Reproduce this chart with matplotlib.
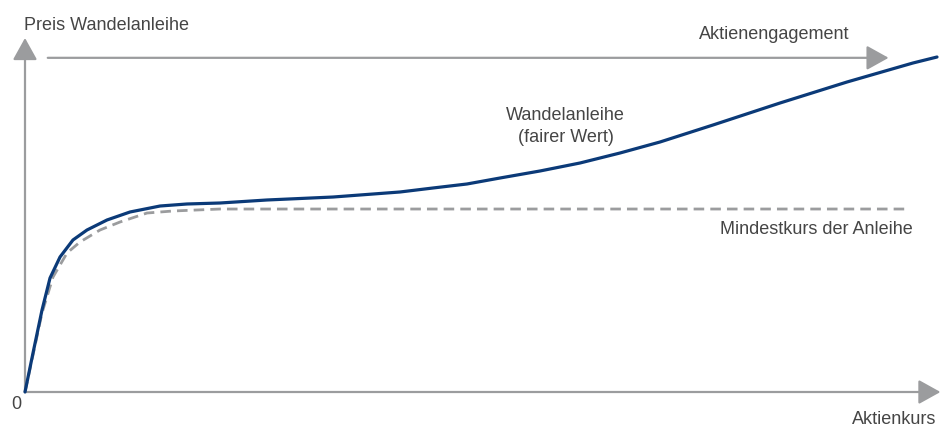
import matplotlib.pyplot as plt
import numpy as np

# Aktienkurs (x) und Preis (y) in willkuerlichen Einheiten, 0..100
kurs_fair = [0, 0.88, 1.87, 2.75, 3.85, 5.27, 6.81, 9.01, 11.54, 14.84, 17.80,
             21.43, 26.59, 33.85, 41.21, 44.84, 48.57, 52.20, 56.59, 60.99,
             65.38, 69.78, 75.60, 82.97, 90.33, 97.58, 100.22]
preis_fair = [0, 11.02, 23.16, 32.20, 38.14, 42.94, 45.76, 48.59, 50.85, 52.54,
              53.11, 53.39, 54.24, 55.08, 56.50, 57.63, 58.76, 60.45, 62.43,
              64.69, 67.51, 70.62, 75.42, 81.64, 87.57, 92.94, 94.63]

kurs_min = [0, 0.88, 1.87, 3.08, 4.62, 6.04, 8.24, 10.44, 13.41, 16.26, 21.43, 97.25]
preis_min = [0, 10.45, 22.32, 32.49, 39.27, 42.37, 45.76, 48.02, 50.56, 51.13,
             51.69, 51.69]

blue = '#0b3a78'
grey = '#9b9c9e'
txt = '#454545'

plt.rcParams['font.family'] = ['Liberation Sans', 'DejaVu Sans']

fig = plt.figure(figsize=(9.49, 4.29), dpi=100)
ax = fig.add_axes([0, 0, 1, 1])
ax.set_xlim(-25 / 9.1, 924 / 9.1)
ax.set_ylim(-37 / 3.54, 392 / 3.54)
ax.axis('off')

# Achsen mit Pfeilen
arrow = dict(arrowstyle='-|>,head_length=1.35,head_width=0.75', color=grey,
             lw=1.6, shrinkA=0, shrinkB=0, mutation_scale=10)
ax.annotate('', xy=(0, 100), xytext=(0, 0), arrowprops=arrow)
ax.annotate('', xy=(100.6, 0), xytext=(0, 0), arrowprops=arrow)
ax.annotate('', xy=(94.9, 94.4), xytext=(2.5, 94.4), arrowprops=arrow)

ax.plot(kurs_min, preis_min, color=grey, lw=2.0, ls=(0, (3.8, 2.2)), zorder=3)
ax.plot(kurs_fair, preis_fair, color=blue, lw=2.3, zorder=4,
        solid_capstyle='round', solid_joinstyle='round')

fs = 13
ax.text(-0.1, 103.6, 'Preis Wandelanleihe', fontsize=fs, color=txt,
        ha='left', va='center')
ax.text(74.1, 101.0, 'Aktienengagement', fontsize=fs, color=txt,
        ha='left', va='center')
ax.text(59.4, 75.0, 'Wandelanleihe\n(fairer Wert)', fontsize=fs, color=txt,
        ha='center', va='center', linespacing=1.4)
ax.text(97.5, 45.8, 'Mindestkurs der Anleihe', fontsize=fs, color=txt,
        ha='right', va='center')
ax.text(-1.0, -3.4, '0', fontsize=fs, color=txt, ha='center', va='center')
ax.text(100.2, -7.9, 'Aktienkurs', fontsize=fs, color=txt,
        ha='right', va='center')

fig.savefig('out.png', dpi=100)
